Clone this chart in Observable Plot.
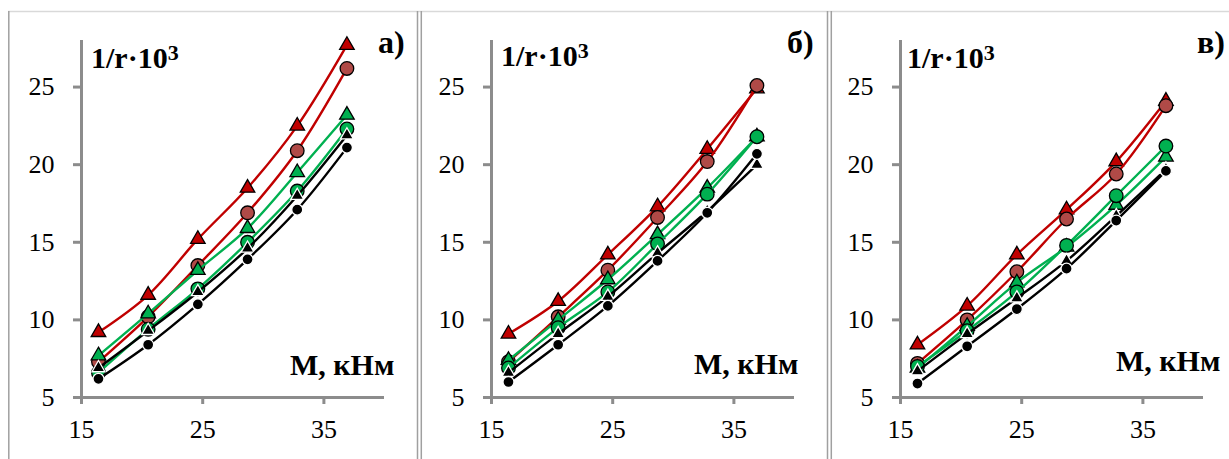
<!DOCTYPE html>
<html><head><meta charset="utf-8">
<script src="https://cdn.jsdelivr.net/npm/d3@7"></script>
<script src="https://cdn.jsdelivr.net/npm/@observablehq/plot@0.6"></script>
<style>
body{margin:0;background:#fff}
#wrap{position:relative;width:1229px;height:459px;overflow:hidden;background:#fff}
.panel{position:absolute;top:0}
#frame{position:absolute;left:0;top:0}
</style>
</head><body><div id="wrap"></div>
<script>
// ---- data ----
const moments = [16.4, 20.5, 24.6, 28.7, 32.8, 36.9];   // M, кНм
const xTicks = [15, 25, 35];
const yTicks = [5, 10, 15, 20, 25];
const panelLabels = ["а)", "б)", "в)"];
const yLabelMain = "1/r·10";
const yLabelSup = "3";
const xLabel = "М, кНм";

// panel а)
const aRedTri    = [9.2, 11.6, 15.2, 18.5, 22.5, 27.7];
const aBrownCirc = [7.3, 10.2, 13.5, 16.9, 20.9, 26.2];
const aGreenTri  = [7.7, 10.4, 13.2, 15.9, 19.5, 23.2];
const aGreenCirc = [6.6, 9.4, 12.0, 15.0, 18.3, 22.3];
const aBlackTri  = [6.9, 9.3, 11.8, 14.6, 18.0, 21.9];
const aBlackCirc = [6.2, 8.4, 11.0, 13.9, 17.1, 21.1];
// panel б)
const bRedTri    = [9.1, 11.2, 14.2, 17.3, 21.0, 24.9];
const bBrownCirc = [7.3, 10.2, 13.2, 16.6, 20.2, 25.1];
const bGreenTri  = [7.4, 10.0, 12.6, 15.5, 18.5, 21.8];
const bGreenCirc = [6.9, 9.5, 11.8, 14.9, 18.1, 21.8];
const bBlackTri  = [6.6, 9.1, 11.5, 14.3, 17.0, 20.0];
const bBlackCirc = [6.0, 8.4, 10.9, 13.8, 16.9, 20.7];
// panel в)
const cRedTri    = [8.4, 10.9, 14.2, 17.1, 20.2, 24.1];
const cBrownCirc = [7.2, 10.0, 13.1, 16.5, 19.4, 23.8];
const cGreenTri  = [6.9, 9.6, 12.4, 14.7, 17.4, 20.5];
const cGreenCirc = [7.0, 9.3, 11.8, 14.8, 18.0, 21.2];
const cBlackTri  = [6.7, 9.1, 11.4, 13.8, 16.7, 19.7];
const cBlackCirc = [5.9, 8.3, 10.7, 13.3, 16.4, 19.6];

const panelSeries = [
  [aRedTri, aBrownCirc, aGreenTri, aGreenCirc, aBlackTri, aBlackCirc],
  [bRedTri, bBrownCirc, bGreenTri, bGreenCirc, bBlackTri, bBlackCirc],
  [cRedTri, cBrownCirc, cGreenTri, cGreenCirc, cBlackTri, cBlackCirc]
];

// ---- styles / layout ----
const seriesStyle = [
  {symbol:"triangle", fill:"#c00000", stroke:"#000", line:"#c00000", r:5.4},
  {symbol:"circle",   fill:"#b04a47", stroke:"#000", line:"#c00000", r:6.8},
  {symbol:"triangle", fill:"#00b050", stroke:"#000", line:"#00b050", r:5.4},
  {symbol:"circle",   fill:"#00b050", stroke:"#000", line:"#00b050", r:6.8},
  {symbol:"triangle", fill:"#000",    stroke:"#fff", line:"#000",    r:4.8},
  {symbol:"circle",   fill:"#000",    stroke:"#fff", line:"#000",    r:5.5}
];
const panelLeft = [0, 410, 819];
const labelPos = [
  {yl:[91,68], pl:[378,53], xl:[290,375]},
  {yl:[91,66], pl:[377,53], xl:[284,374]},
  {yl:[88,68], pl:[378,53], xl:[297,371]}
];
const axisGray = "#8c8c8c";
const FONT = "'Liberation Serif','Times New Roman',serif";

const wrap = document.getElementById("wrap");

panelSeries.forEach((series, p) => {
  const marks = [
    Plot.ruleX([xTicks[0]], {stroke: axisGray, strokeWidth: 3}),
    Plot.ruleY([yTicks[0]], {stroke: axisGray, strokeWidth: 3}),
    Plot.axisY({ticks: yTicks, tickSize: 8, tickPadding: 19, fontSize: 26, fontFamily: FONT,
      stroke: axisGray, strokeWidth: 3, fill: "#000", label: null}),
    Plot.axisX({ticks: xTicks, tickSize: 7, tickPadding: 15, fontSize: 26, fontFamily: FONT,
      stroke: axisGray, strokeWidth: 3, fill: "#000", label: null})
  ];
  series.forEach((vals, i) => {
    const st = seriesStyle[i];
    const data = moments.map((m, k) => ({m, v: vals[k]}));
    marks.push(Plot.line(data, {x: "m", y: "v", stroke: st.line, strokeWidth: 2.4, curve: "catmull-rom"}));
    marks.push(Plot.dot(data, {x: "m", y: "v", symbol: st.symbol, r: st.r, fill: st.fill,
      stroke: st.stroke, strokeWidth: 1.3}));
  });
  const svg = Plot.plot({
    width: 410, height: 459,
    marginLeft: 81, marginRight: 26, marginTop: 40, marginBottom: 62,
    x: {domain: [15, 40], label: null},
    y: {domain: [5, 28], label: null},
    style: {fontFamily: FONT, fontSize: "26px", background: "transparent", overflow: "visible", color: "#000"},
    marks
  });
  const div = document.createElement("div");
  div.className = "panel";
  div.style.left = panelLeft[p] + "px";
  div.appendChild(svg);
  wrap.appendChild(div);

  const s = d3.select(svg);
  const lp = labelPos[p];
  const t1 = s.append("text").attr("x", lp.yl[0]).attr("y", lp.yl[1]).attr("text-anchor", "start")
    .attr("font-family", FONT).attr("font-weight", "bold").attr("font-size", 30).attr("fill", "#000");
  t1.append("tspan").text(yLabelMain);
  t1.append("tspan").attr("dy", -8).attr("font-size", 22).text(yLabelSup);
  s.append("text").attr("x", lp.pl[0]).attr("y", lp.pl[1]).attr("text-anchor", "start")
    .attr("font-family", FONT).attr("font-weight", "bold").attr("font-size", 32).attr("fill", "#000")
    .text(panelLabels[p]);
  s.append("text").attr("x", lp.xl[0]).attr("y", lp.xl[1]).attr("text-anchor", "start")
    .attr("font-family", FONT).attr("font-weight", "bold").attr("font-size", 30).attr("fill", "#000")
    .text(xLabel);
});

// outer frames of the three chart boxes
const fr = d3.select(wrap).append("svg").attr("id", "frame").attr("width", 1229).attr("height", 459);
fr.append("line").attr("x1", 8).attr("x2", 1229).attr("y1", 11.5).attr("y2", 11.5)
  .attr("stroke", "#d9d9d9").attr("stroke-width", 1.5);
[8.8, 417.5, 421.3, 827.5, 831.3].forEach(x => {
  fr.append("line").attr("x1", x).attr("x2", x).attr("y1", 11).attr("y2", 459)
    .attr("stroke", "#a0a0a0").attr("stroke-width", 1.5);
});
</script>
</body></html>
